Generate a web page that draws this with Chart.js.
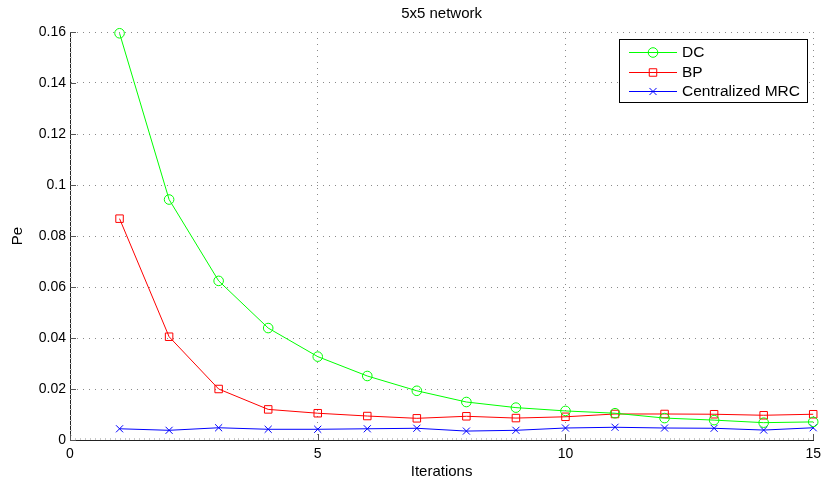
<!DOCTYPE html>
<html>
<head>
<meta charset="utf-8">
<script src="https://cdn.jsdelivr.net/npm/chart.js@4/dist/chart.umd.min.js"></script>
<style>
html,body{margin:0;padding:0;background:#fff;}
#wrap{width:827px;height:485px;}
</style>
</head>
<body>
<div id="wrap"><canvas id="c" width="827" height="485"></canvas></div>
<script>
const iterations = [1,2,3,4,5,6,7,8,9,10,11,12,13,14,15];
const dcValues  = [0.1595,0.0943,0.0624,0.0439,0.0327,0.0251,0.0193,0.0149,0.0127,0.0114,0.0105,0.0086,0.0078,0.0068,0.0071];
const bpValues  = [0.0868,0.0405,0.0200,0.0120,0.0105,0.0094,0.0085,0.0093,0.0086,0.0091,0.0102,0.0102,0.0101,0.0097,0.0101];
const mrcValues = [0.0044,0.0038,0.0048,0.0042,0.0042,0.0044,0.0046,0.0035,0.0038,0.0047,0.0050,0.0047,0.0046,0.0039,0.0048];
const seriesNames = ['DC','BP','Centralized MRC'];
const chartTitle = '5x5 network';
const xTitle = 'Iterations';
const yTitle = 'Pe';

const FONT = '"Liberation Sans", Arial, Helvetica, sans-serif';

function pts(vals){ return iterations.map((x,i)=>({x:x,y:vals[i]})); }

const decor = {
  id:'decor',
  beforeDatasetsDraw(chart){
    const ctx = chart.ctx, xs = chart.scales.x, ys = chart.scales.y, a = chart.chartArea;
    ctx.save();
    // minor ticks
    ctx.strokeStyle = '#c8c8c8'; ctx.lineWidth = 1;
    ctx.beginPath();
    for(let v=0; v<=15.0001; v+=0.1){
      const px = Math.round(xs.getPixelForValue(v))+0.5;
      ctx.moveTo(px, a.bottom); ctx.lineTo(px, a.bottom-2);
    }
    for(let v=0; v<=0.16001; v+=0.002){
      const py = Math.round(ys.getPixelForValue(v))+0.5;
      ctx.moveTo(a.left, py); ctx.lineTo(a.left+2, py);
    }
    ctx.stroke();
    // major ticks inward
    ctx.strokeStyle = '#555';
    ctx.beginPath();
    xs.ticks.forEach(t=>{
      const px = Math.round(xs.getPixelForValue(t.value))+0.5;
      ctx.moveTo(px, a.bottom); ctx.lineTo(px, a.bottom-6);
    });
    ys.ticks.forEach(t=>{
      const py = Math.round(ys.getPixelForValue(t.value))+0.5;
      ctx.moveTo(a.left, py); ctx.lineTo(a.left+6, py);
    });
    ctx.stroke();
    ctx.restore();
  },
  afterDraw(chart){
    const ctx = chart.ctx, a = chart.chartArea;
    ctx.save();
    ctx.fillStyle = '#000';
    ctx.textAlign = 'center'; ctx.textBaseline = 'middle';
    ctx.font = '15px ' + FONT;
    ctx.fillText(chartTitle, (a.left+a.right)/2, 14);
    ctx.fillText(xTitle, (a.left+a.right)/2, 472);
    ctx.save();
    ctx.translate(18, (a.top+a.bottom)/2);
    ctx.rotate(-Math.PI/2);
    ctx.fillText(yTitle, 0, 0);
    ctx.restore();
    // legend
    const bx = 619.5, by = 39.5, bw = 188, bh = 63;
    ctx.fillStyle = '#fff';
    ctx.fillRect(bx, by, bw, bh);
    ctx.strokeStyle = '#000'; ctx.lineWidth = 1;
    ctx.strokeRect(bx, by, bw, bh);
    const rowsY = [52, 72, 91];
    ctx.font = '15.5px ' + FONT;
    ctx.textAlign = 'left';
    chart.data.datasets.forEach((ds, i)=>{
      const y = rowsY[i];
      ctx.strokeStyle = ds.borderColor; ctx.lineWidth = 1;
      ctx.beginPath(); ctx.moveTo(629, y+0.5); ctx.lineTo(677, y+0.5); ctx.stroke();
      ctx.fillStyle = 'rgba(0,0,0,0)';
      ctx.strokeStyle = ds.borderColor;
      Chart.helpers.drawPoint(ctx, {pointStyle: ds.pointStyle, radius: ds.pointRadius, borderWidth: 1}, 653, y+0.5);
      ctx.fillStyle = '#000';
      ctx.fillText(ds.label, 682, y+1);
    });
    ctx.restore();
  }
};

const mk = (label, vals, color, style, r) => ({
  label: label, data: pts(vals), borderColor: color, backgroundColor: 'rgba(0,0,0,0)',
  pointBorderColor: color, pointBackgroundColor: 'rgba(0,0,0,0)',
  borderWidth: 1, pointBorderWidth: 1, pointRadius: r, pointStyle: style,
  pointHoverRadius: r, tension: 0, clip: false
});

new Chart(document.getElementById('c'), {
  type: 'line',
  data: {
    datasets: [
      mk(seriesNames[0], dcValues, '#00ff00', 'circle', 4.8),
      mk(seriesNames[1], bpValues, '#ff0000', 'rect', 5.3),
      mk(seriesNames[2], mrcValues, '#0000ff', 'crossRot', 5)
    ]
  },
  options: {
    responsive: false,
    animation: false,
    events: [],
    layout: { padding: { top: 32, right: 10, left: 0, bottom: 0 } },
    plugins: { legend: { display: false }, title: { display: false }, tooltip: { enabled: false } },
    scales: {
      x: {
        type: 'linear', min: 0, max: 15,
        afterFit: s => { s.height = 45; },
        ticks: { stepSize: 5, color: '#000', padding: 6, font: { family: FONT, size: 14 }, maxRotation: 0 },
        grid: { color: '#8a8a8a', lineWidth: 1, drawTicks: false, tickLength: 0 },
        border: { display: true, color: '#222', width: 1, dash: [1, 5] }
      },
      y: {
        type: 'linear', min: 0, max: 0.16,
        afterFit: s => { s.width = 70; },
        ticks: { stepSize: 0.02, color: '#000', padding: 4, font: { family: FONT, size: 14 },
          callback: v => String(+v.toFixed(3)) },
        grid: { color: '#8a8a8a', lineWidth: 1, drawTicks: false, tickLength: 0 },
        border: { display: true, color: '#222', width: 1, dash: [1, 5] }
      }
    }
  },
  plugins: [decor]
});
</script>
</body>
</html>
